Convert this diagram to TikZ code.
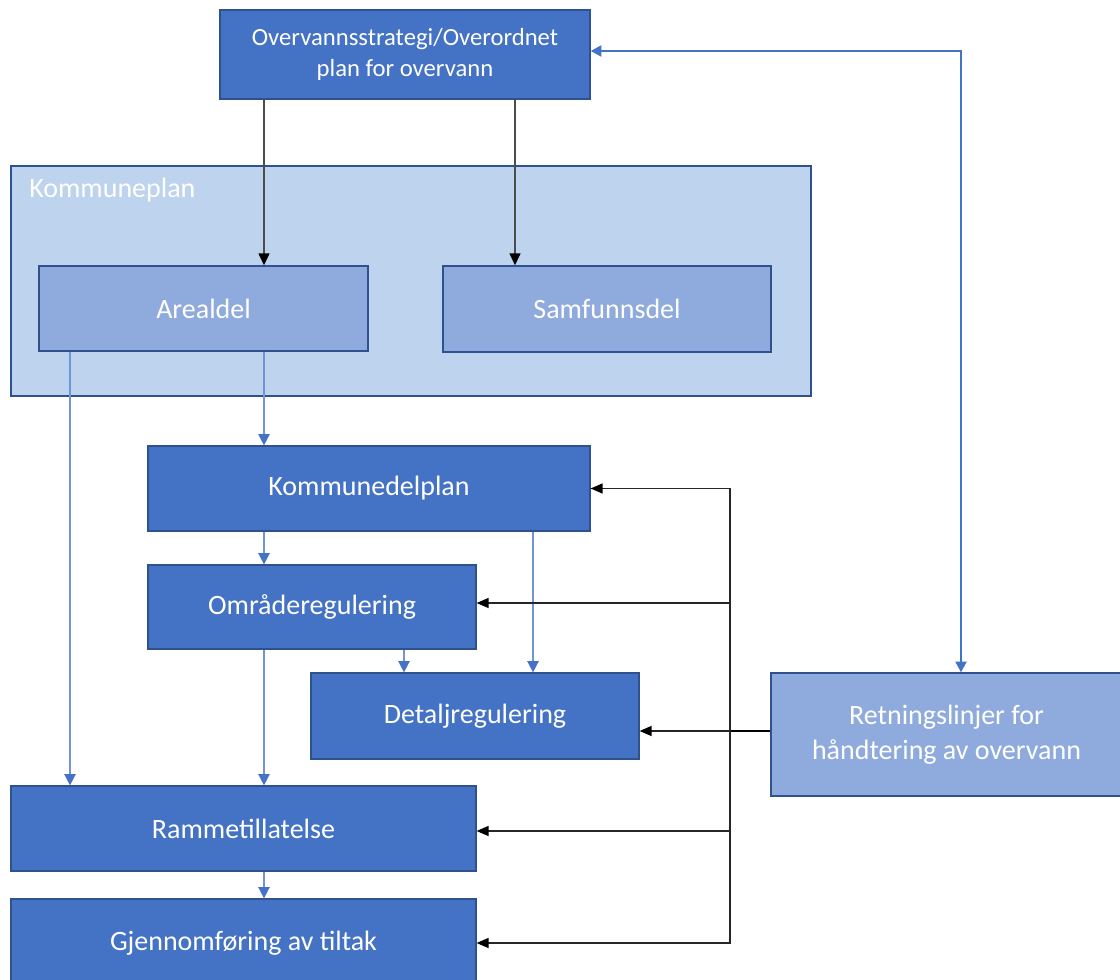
\documentclass[tikz,border=0pt]{standalone}
\usepackage{fontspec}
\setmainfont{Carlito}
\usetikzlibrary{arrows.meta,calc}
\definecolor{dkblue}{HTML}{4472C4}
\definecolor{bord}{HTML}{2F528F}
\definecolor{ltblue}{HTML}{8FAADC}
\definecolor{paleblue}{HTML}{BDD3EE}
\definecolor{lineblue}{HTML}{6F95D8}
\begin{document}
\begin{tikzpicture}[x=0.75pt,y=-0.75pt,
  dkbox/.style={draw=bord,line width=0.9pt,fill=dkblue,text=white,inner sep=0pt,align=center,font=\fontsize{21}{26}\selectfont},
  ltbox/.style={draw=bord,line width=0.9pt,fill=ltblue,text=white,inner sep=0pt,align=center,font=\fontsize{21}{26}\selectfont},
  grayarr/.style={draw=black!70,line width=1.6pt,-{Triangle[length=9pt,width=8pt,color=black]}},
  bluearr/.style={draw=lineblue,line width=1.1pt,-{Triangle[length=8.5pt,width=8.5pt,color=dkblue]}},
  blkarr/.style={draw=black!85,line width=1pt,-{Triangle[length=9pt,width=7.5pt,color=black]}},
  dblarr/.style={draw=dkblue,line width=2pt,{Triangle[length=8pt,width=8pt]}-{Triangle[length=8pt,width=8pt]}}
]
\useasboundingbox (0,0) rectangle (1120,980);
\fill[white] (0,0) rectangle (1120,980);
% container
\node[draw=bord,line width=0.9pt,fill=paleblue,inner sep=0pt,minimum width=600pt,minimum height=172.5pt] (kp) at (411,281) {};
\node[anchor=north west,text=white,inner sep=0pt,font=\fontsize{21}{24}\selectfont] (kplabel) at (29,178) {Kommuneplan};
% boxes
\node[dkbox,minimum width=277.5pt,minimum height=66.75pt,font=\fontsize{18.5}{23}\selectfont] (top) at (405,54.5) {Overvannsstrategi/Overordnet\\plan for overvann};
\node[ltbox,minimum width=246.75pt,minimum height=63.75pt] (areal) at (203.5,308.5) {Arealdel};
\node[ltbox,minimum width=246pt,minimum height=64.5pt] (samf) at (607,309) {Samfunnsdel};
\node[dkbox,minimum width=331.5pt,minimum height=63.75pt] (kdp) at (369,488.5) {Kommunedelplan};
\node[dkbox,minimum width=246pt,minimum height=63pt] (omr) at (312,607) {Områderegulering};
\node[dkbox,minimum width=246pt,minimum height=64.5pt] (det) at (475,716) {Detaljregulering};
\node[ltbox,minimum width=263.25pt,minimum height=92.25pt] (ret) at (946.5,734.5) {Retningslinjer for\\håndtering av overvann};
\node[dkbox,minimum width=348.75pt,minimum height=63.75pt] (ramme) at (243.5,828.5) {Rammetillatelse};
\node[dkbox,minimum width=348.75pt,minimum height=66pt] (gjen) at (243.5,943) {Gjennomføring av tiltak};
% x positions
\coordinate (x70) at (70,0);
\coordinate (x264) at (264,0);
\coordinate (x404) at (404,0);
\coordinate (x515) at (515,0);
\coordinate (x533) at (533,0);
\coordinate (x961) at (961,51);
\coordinate (bus) at (730,731);
% gray arrows from top
\draw[grayarr] (top.south -| x264) -- (areal.north -| x264);
\draw[grayarr] (top.south -| x515) -- (samf.north -| x515);
% blue arrows
\draw[bluearr] (areal.south -| x70) -- (ramme.north -| x70);
\draw[bluearr] (areal.south -| x264) -- (kdp.north -| x264);
\draw[bluearr] (kdp.south -| x264) -- (omr.north -| x264);
\draw[bluearr] (kdp.south -| x533) -- (det.north -| x533);
\draw[bluearr] (omr.south -| x404) -- (det.north -| x404);
\draw[bluearr] (omr.south -| x264) -- (ramme.north -| x264);
\draw[bluearr] (ramme.south -| x264) -- (gjen.north -| x264);
% double blue arrow
\draw[dblarr] (top.east |- x961) -| (ret.north -| x961);
% black connectors
\draw[black,line width=2.2pt] (ret.west |- bus) -- (bus);
\draw[blkarr] (bus) |- (kdp.east);
\draw[blkarr] (bus) |- ($(omr.east)+(0,-4)$);
\draw[blkarr] (bus) -- (det.east |- bus);
\draw[blkarr] (bus) |- ($(ramme.east)+(0,2.5)$);
\draw[blkarr] (bus) |- (gjen.east);
\end{tikzpicture}
\end{document}
